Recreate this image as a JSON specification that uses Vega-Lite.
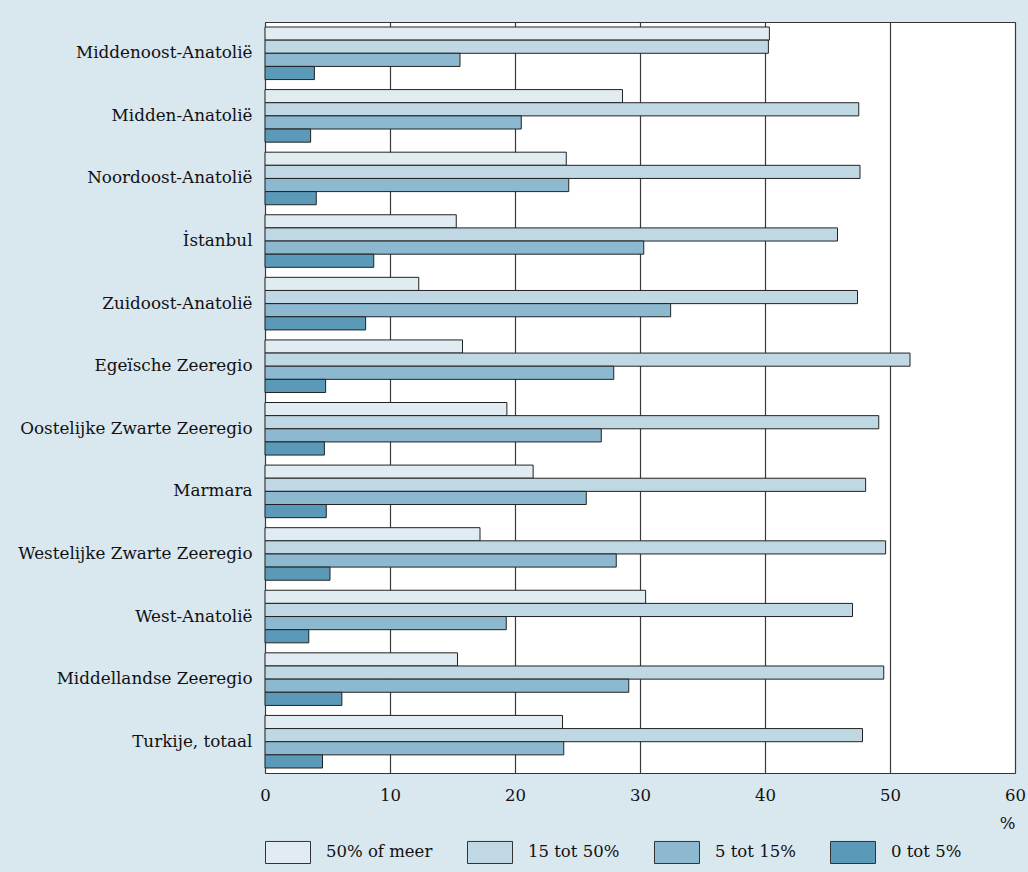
{
  "$schema": "https://vega.github.io/schema/vega-lite/v6.json",
  "width": 750,
  "height": 751,
  "autosize": {"type": "none"},
  "padding": {"left": 265, "top": 22, "right": 13, "bottom": 99},
  "background": "#d9e7ef",
  "config": {
    "font": "DejaVu Serif",
    "view": {"stroke": "#333333", "strokeWidth": 1, "fill": "#ffffff"}
  },
  "data": {
    "values": [
      {"region": "Middenoost-Anatolië", "cat": "50% of meer", "value": 40.35},
      {"region": "Middenoost-Anatolië", "cat": "15 tot 50%", "value": 40.27},
      {"region": "Middenoost-Anatolië", "cat": "5 tot 15%", "value": 15.6},
      {"region": "Middenoost-Anatolië", "cat": "0 tot 5%", "value": 3.95},
      {"region": "Midden-Anatolië", "cat": "50% of meer", "value": 28.6},
      {"region": "Midden-Anatolië", "cat": "15 tot 50%", "value": 47.5},
      {"region": "Midden-Anatolië", "cat": "5 tot 15%", "value": 20.5},
      {"region": "Midden-Anatolië", "cat": "0 tot 5%", "value": 3.65},
      {"region": "Noordoost-Anatolië", "cat": "50% of meer", "value": 24.1},
      {"region": "Noordoost-Anatolië", "cat": "15 tot 50%", "value": 47.6},
      {"region": "Noordoost-Anatolië", "cat": "5 tot 15%", "value": 24.3},
      {"region": "Noordoost-Anatolië", "cat": "0 tot 5%", "value": 4.1},
      {"region": "İstanbul", "cat": "50% of meer", "value": 15.3},
      {"region": "İstanbul", "cat": "15 tot 50%", "value": 45.8},
      {"region": "İstanbul", "cat": "5 tot 15%", "value": 30.3},
      {"region": "İstanbul", "cat": "0 tot 5%", "value": 8.7},
      {"region": "Zuidoost-Anatolië", "cat": "50% of meer", "value": 12.3},
      {"region": "Zuidoost-Anatolië", "cat": "15 tot 50%", "value": 47.4},
      {"region": "Zuidoost-Anatolië", "cat": "5 tot 15%", "value": 32.45},
      {"region": "Zuidoost-Anatolië", "cat": "0 tot 5%", "value": 8.05},
      {"region": "Egeïsche Zeeregio", "cat": "50% of meer", "value": 15.8},
      {"region": "Egeïsche Zeeregio", "cat": "15 tot 50%", "value": 51.6},
      {"region": "Egeïsche Zeeregio", "cat": "5 tot 15%", "value": 27.9},
      {"region": "Egeïsche Zeeregio", "cat": "0 tot 5%", "value": 4.85},
      {"region": "Oostelijke Zwarte Zeeregio", "cat": "50% of meer", "value": 19.35},
      {"region": "Oostelijke Zwarte Zeeregio", "cat": "15 tot 50%", "value": 49.1},
      {"region": "Oostelijke Zwarte Zeeregio", "cat": "5 tot 15%", "value": 26.9},
      {"region": "Oostelijke Zwarte Zeeregio", "cat": "0 tot 5%", "value": 4.75},
      {"region": "Marmara", "cat": "50% of meer", "value": 21.45},
      {"region": "Marmara", "cat": "15 tot 50%", "value": 48.05},
      {"region": "Marmara", "cat": "5 tot 15%", "value": 25.7},
      {"region": "Marmara", "cat": "0 tot 5%", "value": 4.9},
      {"region": "Westelijke Zwarte Zeeregio", "cat": "50% of meer", "value": 17.2},
      {"region": "Westelijke Zwarte Zeeregio", "cat": "15 tot 50%", "value": 49.65},
      {"region": "Westelijke Zwarte Zeeregio", "cat": "5 tot 15%", "value": 28.1},
      {"region": "Westelijke Zwarte Zeeregio", "cat": "0 tot 5%", "value": 5.2},
      {"region": "West-Anatolië", "cat": "50% of meer", "value": 30.45},
      {"region": "West-Anatolië", "cat": "15 tot 50%", "value": 47.0},
      {"region": "West-Anatolië", "cat": "5 tot 15%", "value": 19.3},
      {"region": "West-Anatolië", "cat": "0 tot 5%", "value": 3.5},
      {"region": "Middellandse Zeeregio", "cat": "50% of meer", "value": 15.4},
      {"region": "Middellandse Zeeregio", "cat": "15 tot 50%", "value": 49.5},
      {"region": "Middellandse Zeeregio", "cat": "5 tot 15%", "value": 29.1},
      {"region": "Middellandse Zeeregio", "cat": "0 tot 5%", "value": 6.15},
      {"region": "Turkije, totaal", "cat": "50% of meer", "value": 23.8},
      {"region": "Turkije, totaal", "cat": "15 tot 50%", "value": 47.8},
      {"region": "Turkije, totaal", "cat": "5 tot 15%", "value": 23.9},
      {"region": "Turkije, totaal", "cat": "0 tot 5%", "value": 4.6}
    ]
  },
  "mark": {"type": "bar", "stroke": "#222222", "strokeWidth": 1},
  "encoding": {
    "y": {
      "field": "region",
      "type": "nominal",
      "sort": null,
      "scale": {"paddingInner": 0.16, "paddingOuter": 0.08},
      "axis": {
        "title": null,
        "ticks": false,
        "domain": false,
        "labelPadding": 13,
        "labelFontSize": 16.8,
        "labelColor": "#111111",
        "labelLimit": 400
      }
    },
    "yOffset": {
      "field": "cat",
      "type": "nominal",
      "sort": ["50% of meer", "15 tot 50%", "5 tot 15%", "0 tot 5%"]
    },
    "x": {
      "field": "value",
      "type": "quantitative",
      "scale": {"domain": [0, 60], "nice": false},
      "axis": {
        "values": [0, 10, 20, 30, 40, 50, 60],
        "grid": true,
        "gridColor": "#3a3a3a",
        "gridWidth": 1.2,
        "gridOpacity": 1,
        "ticks": false,
        "domain": false,
        "labelFlush": false,
        "labelPadding": 14,
        "labelFontSize": 16.5,
        "labelColor": "#111111",
        "title": "%",
        "titleFontWeight": "normal",
        "titleFontSize": 16.5,
        "titleColor": "#111111",
        "titleAnchor": "end",
        "titleAlign": "right",
        "titlePadding": 12
      }
    },
    "color": {
      "field": "cat",
      "type": "nominal",
      "sort": ["50% of meer", "15 tot 50%", "5 tot 15%", "0 tot 5%"],
      "scale": {
        "domain": ["50% of meer", "15 tot 50%", "5 tot 15%", "0 tot 5%"],
        "range": ["#e1ecf2", "#c0d8e4", "#8cb9cf", "#5a9ab8"]
      },
      "legend": {
        "title": null,
        "orient": "bottom",
        "direction": "horizontal",
        "offset": -3,
        "symbolType": "M-1,-0.49H1V0.49H-1Z",
        "symbolSize": 2025,
        "symbolStrokeColor": "#333333",
        "symbolStrokeWidth": 1,
        "symbolOpacity": 1,
        "labelFontSize": 16.5,
        "labelColor": "#111111",
        "labelOffset": 15,
        "columnPadding": 32,
        "labelLimit": 300
      }
    }
  }
}
